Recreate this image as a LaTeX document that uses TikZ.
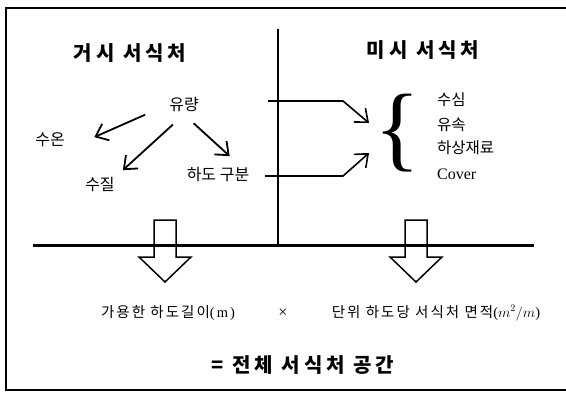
\documentclass[tikz,border=0pt]{standalone}
\usepackage{fontspec}
\usepackage{graphicx}
\setmainfont{Liberation Serif}
\newfontfamily\kr{Noto Sans CJK KR}
\newfontfamily\krw{Noto Sans CJK KR}[LetterSpace=14]
\newfontfamily\krww{Noto Sans CJK KR}[LetterSpace=20]
\newfontfamily\rmw{Liberation Serif}[LetterSpace=14]
\usetikzlibrary{arrows.meta, positioning}
\tikzset{
  ttl/.style  = {inner sep=2pt, font=\krww\fontsize{20}{22}\selectfont\bfseries},
  lbl/.style  = {inner sep=2pt, font=\kr\fontsize{16}{18}\selectfont},
  item/.style = {inner sep=1pt, anchor=west, font=\kr\fontsize{15.5}{18}\selectfont},
  eqn/.style  = {inner sep=2pt, font=\krw\fontsize{14.5}{17}\selectfont},
  tot/.style  = {inner sep=2pt, font=\krww\fontsize{20}{22}\selectfont\bfseries},
  arr/.style  = {-{Straight Barb[length=11pt,width=18pt]}, line width=1.8pt},
  blkarr/.style = {line width=1.5pt, line join=miter},
}

\begin{document}
\begin{tikzpicture}[x=1pt, y=-1pt]
  \useasboundingbox (0,0) rectangle (566,392);
  \clip (0,0) rectangle (566,392);
  \draw[line width=2pt] (5.5,7.5) rectangle (590,390);

  % axes
  \draw[line width=2.6pt] (278,29) -- (278,245);
  \draw[line width=3pt] (33,245) -- (534,245);

  \node[ttl] (macro) at (130,53) {거시 서식처};
  \node[ttl] (micro) at (423,50) {미시 서식처};

  % macro habitat
  \node[lbl] (flow)  at (184,105) {유량};
  \node[lbl] (temp)  at (50,140)  {수온};
  \node[lbl] (qual)  at (100,185) {수질};
  \node[lbl] (chan)  at (218,175) {하도 구분};

  \draw[arr, shorten <=24pt, shorten >=30pt] (flow.west) -- (temp.south east);
  \draw[arr, shorten <=15pt, shorten >=8pt] (flow.south) -- (qual.north east);
  \draw[arr, shorten <=13pt, shorten >=14pt] (flow.south) -- ([xshift=22pt]chan.north);

  % micro habitat
  \node[inner sep=0pt] (brc) at (398,133.5) {\resizebox*{46pt}{78pt}{\{}};
  \node[item] (dep)  at (436,100) {수심};
  \node[item] (vel)  at (436,125) {유속};
  \node[item] (sub)  at (436,148) {하상재료};
  \node[item, font=\rmfamily\fontsize{16}{18}\selectfont] (cov) at (436,174) {Cover};

  \coordinate (tu) at (268,101);
  \coordinate (tl) at (265,176);
  \draw[arr, line width=1.6pt] (tu) -- ++(75,0) -- (369,123);
  \draw[arr, line width=1.6pt] (tl) -- ++(78,0) -- (369,153);

  % block arrows
  \foreach \bx in {165,416}
    \draw[blkarr] (\bx-11,220) -- (\bx+11,220) -- (\bx+11,257) -- (\bx+26,257)
      -- (\bx,282) -- (\bx-26,257) -- (\bx-11,257) -- cycle;

  \node[eqn] (len)   at (168,313) {가용한 하도길이{\rmw(m)}};
  \node[eqn] (times) at (283,313) {{\rmfamily\fontsize{16}{18}\selectfont ×}};
  \node[eqn] (area)  at (436,313) {단위 하도당 서식처 면적{\rmw($m^2/m$)}};
  \node[tot] (total) at (303,365) {= 전체 서식처 공간};
\end{tikzpicture}
\end{document}
